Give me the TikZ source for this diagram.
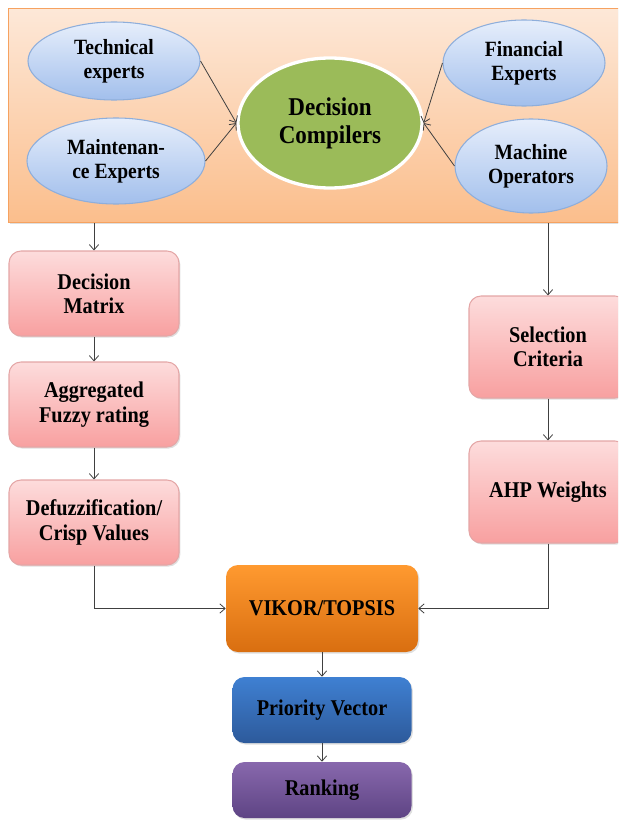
\documentclass[tikz,border=0pt]{standalone}
\usepackage{fontspec}
\setmainfont{Liberation Serif}[FakeStretch=0.9]
\usetikzlibrary{arrows.meta,shapes.geometric,shadows}
\definecolor{bgtop}{HTML}{FDE8D8}
\definecolor{bgbot}{HTML}{FBBE8C}
\definecolor{bgline}{HTML}{F6A260}
\definecolor{eltop}{HTML}{E6EEFB}
\definecolor{elbot}{HTML}{A2BFEC}
\definecolor{elline}{HTML}{8EAEDB}
\definecolor{dcgreen}{HTML}{9BBB59}
\definecolor{pktop}{HTML}{FDDCDC}
\definecolor{pkbot}{HTML}{F8A0A0}
\definecolor{pkline}{HTML}{E4A6A6}
\definecolor{ortop}{HTML}{FF9A30}
\definecolor{orbot}{HTML}{D96E10}
\definecolor{bltop}{HTML}{3F80D2}
\definecolor{blbot}{HTML}{2D5A9B}
\definecolor{putop}{HTML}{8868AD}
\definecolor{pubot}{HTML}{5E4484}
\definecolor{conn}{HTML}{404040}
\tikzset{
  expert/.style={ellipse, draw=elline, line width=0.8pt, top color=eltop, bottom color=elbot,
    inner sep=0pt, align=center, font=\fontsize{16.3pt}{18pt}\selectfont\bfseries},
  stepbox/.style={rectangle, rounded corners=9pt, inner sep=0pt, align=center,
    font=\fontsize{16.9pt}{18.3pt}\selectfont\bfseries,
    drop shadow={opacity=0.25, shadow xshift=1pt, shadow yshift=-1.2pt}},
  pinkbox/.style={stepbox, draw=pkline, line width=0.8pt, top color=pktop, bottom color=pkbot},
  conarrow/.style={draw=conn, line width=0.6pt, -{Straight Barb[length=4pt,width=7pt]}}
}
\begin{document}
\begin{tikzpicture}[x=0.75pt,y=-0.75pt]
\useasboundingbox (0,0) rectangle (618,820);
\clip (0,0) rectangle (618,820);
% background panel
\node[rectangle, draw=bgline, line width=0.8pt, top color=bgtop, bottom color=bgbot,
  minimum width=630pt*0.75, minimum height=214pt*0.75, inner sep=0pt, anchor=north west,
  drop shadow={opacity=0.25, shadow xshift=1pt, shadow yshift=-1.2pt}] (bg) at (8,8) {};
% experts
\node[expert, minimum width=172*0.75pt, minimum height=78*0.75pt] (tech) at (114,61) {Technical\\experts};
\node[expert, minimum width=178*0.75pt, minimum height=86*0.75pt] (main) at (116,161) {Maintenan-\\ce Experts};
\node[expert, minimum width=162*0.75pt, minimum height=86*0.75pt] (fin) at (524,63) {Financial\\Experts};
\node[expert, minimum width=152*0.75pt, minimum height=94*0.75pt] (mach) at (531,166) {Machine\\Operators};
\node[ellipse, draw=white, line width=2.5pt, fill=dcgreen, inner sep=0pt, align=center,
  minimum width=184*0.75pt, minimum height=130*0.75pt,
  font=\fontsize{19.2pt}{20.8pt}\selectfont\bfseries] (dc) at (330,123) {Decision\\Compilers};
% left chain
\node[pinkbox, minimum width=170*0.75pt, minimum height=85*0.75pt] (dm) at (94,293.5) {Decision\\Matrix};
\node[pinkbox, minimum width=170*0.75pt, minimum height=85*0.75pt] (agg) at (94,404.5) {Aggregated\\Fuzzy rating};
\node[pinkbox, minimum width=170*0.75pt, minimum height=85*0.75pt] (dfz) at (94,522.5) {Defuzzification/\\Crisp Values};
% right chain
\node[pinkbox, minimum width=158*0.75pt, minimum height=102*0.75pt] (sc) at (548,347) {Selection\\Criteria};
\node[pinkbox, minimum width=158*0.75pt, minimum height=102*0.75pt] (ahp) at (548,492) {AHP Weights};
% bottom chain
\node[stepbox, top color=ortop, bottom color=orbot, minimum width=192*0.75pt, minimum height=87*0.75pt] (vik) at (322,608.5) {VIKOR/TOPSIS};
\node[stepbox, top color=bltop, bottom color=blbot, minimum width=179*0.75pt, minimum height=66*0.75pt] (pv) at (322,710) {Priority Vector};
\node[stepbox, top color=putop, bottom color=pubot, minimum width=179*0.75pt, minimum height=56*0.75pt] (rk) at (322,790) {Ranking};
% connectors
\draw[conarrow] (tech.east) -- (dc.west);
\draw[conarrow] (main.east) -- (dc.west);
\draw[conarrow] (fin.west) -- (dc.east);
\draw[conarrow] (mach.west) -- (dc.east);
\draw[conarrow] (bg.south -| dm.north) -- (dm.north);
\draw[conarrow] (bg.south -| sc.north) -- (sc.north);
\draw[conarrow] (dm) -- (agg);
\draw[conarrow] (agg) -- (dfz);
\draw[conarrow] (sc) -- (ahp);
\draw[conarrow] (dfz.south) |- (vik.west);
\draw[conarrow] (ahp.south) |- (vik.east);
\draw[conarrow] (vik) -- (pv);
\draw[conarrow] (pv) -- (rk);
\end{tikzpicture}
\end{document}
